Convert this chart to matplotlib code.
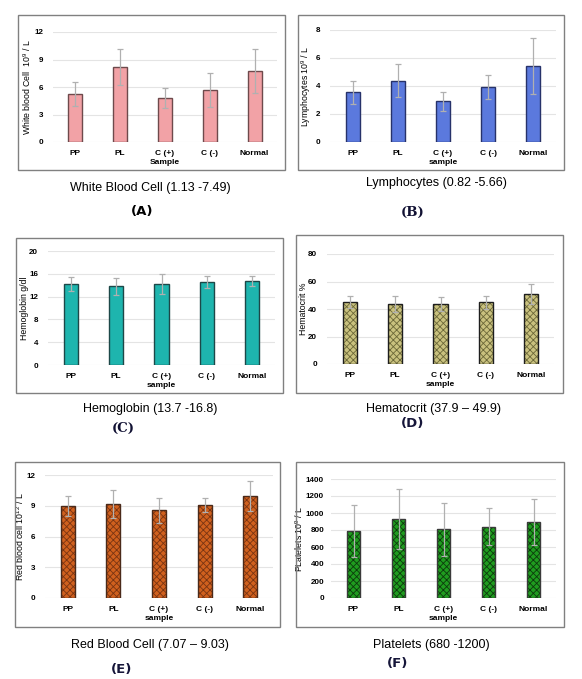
import matplotlib
matplotlib.use("Agg")
import matplotlib.pyplot as plt
from matplotlib.patches import Rectangle

samples = ["PP", "PL", "C (+)", "C (-)", "Normal"]

wbc_mean = [5.25, 8.15, 4.8, 5.7, 7.75]
wbc_err = [1.3, 1.95, 1.1, 1.85, 2.35]
lym_mean = [3.55, 4.37, 2.91, 3.9, 5.43]
lym_err = [0.8, 1.17, 0.66, 0.86, 1.98]
hgb_mean = [14.2, 13.85, 14.2, 14.55, 14.75]
hgb_err = [1.25, 1.5, 1.7, 1.0, 0.85]
hct_mean = [44.8, 43.8, 43.8, 44.9, 51.0]
hct_err = [4.3, 5.9, 5.2, 4.7, 7.2]
rbc_mean = [8.98, 9.17, 8.57, 9.1, 9.98]
rbc_err = [1.0, 1.4, 1.22, 0.7, 1.47]
plt_mean = [790, 928, 808, 840, 896]
plt_err = [302, 350, 312, 221, 268]

W, H = 582, 679
plt.rcParams["font.family"] = ["Liberation Sans", "DejaVu Sans"]
plt.rcParams["mathtext.default"] = "regular"
plt.rcParams["hatch.linewidth"] = 0.6

fig = plt.figure(figsize=(W / 100, H / 100), dpi=100)


def fbox(l, t, r, b):
    return [l / W, 1 - b / H, (r - l) / W, (b - t) / H]


# each panel: data, ylim/ticks, labels, colours, pixel boxes
panels = [
    dict(mean=wbc_mean, err=wbc_err, ymax=12, step=3, ylabel="White blood Cell  10$^9$ / L",
         xlabel="Sample", title="White Blood Cell (1.13 -7.49)", tag="(A)",
         face="#f2a2a6", edge="#6e4a4c", hatch=None, ylx=29, ypad=7,
         ax=(53, 32, 277, 142), frame=(18, 15, 285, 170), tpos=(150, 188), tagpos=(142, 212),
         tagfont="DejaVu Sans", tagcolor="black"),
    dict(mean=lym_mean, err=lym_err, ymax=8, step=2, ylabel="Lymphocytes 10$^9$ / L",
         xlabel="sample", title="Lymphocytes (0.82 -5.66)", tag="(B)",
         face="#5b79dd", edge="#27326a", hatch=None, ylx=309, ypad=7,
         ax=(330, 30, 556, 142), frame=(298, 15, 564, 170), tpos=(436, 183), tagpos=(413, 212),
         tagfont="DejaVu Serif", tagcolor="#111133"),
    dict(mean=hgb_mean, err=hgb_err, ymax=20, step=4, ylabel="Hemoglobin g/dl",
         xlabel="sample", title="Hemoglobin (13.7 -16.8)", tag="(C)",
         face="#1eb5ae", edge="#1d4848", hatch=None, ylx=25, ypad=7,
         ax=(48, 251, 275, 365), frame=(16, 238, 283, 393), tpos=(150, 409), tagpos=(123, 428),
         tagfont="DejaVu Serif", tagcolor="#111133"),
    dict(mean=hct_mean, err=hct_err, ymax=80, step=20, ylabel="Hematocrit %",
         xlabel="sample", title="Hematocrit (37.9 \u2013 49.9)", tag="(D)",
         face="#c9c17e", edge="#1e1e1e", hatch="xxxxx", hcolor="#6c6838", ylx=304, ypad=7,
         ax=(327, 254, 554, 364), frame=(296, 235, 563, 393), tpos=(433, 409), tagpos=(413, 424),
         tagfont="DejaVu Sans", tagcolor="#16163a"),
    dict(mean=rbc_mean, err=rbc_err, ymax=12, step=3, ylabel="Red blood cell 10$^{12}$ / L",
         xlabel="sample", title="Red Blood Cell (7.07 \u2013 9.03)", tag="(E)",
         face="#d0601e", edge="#4a2a1a", hatch="xxxxx", hcolor="#7a3412", ylx=22, ypad=7,
         ax=(45, 475, 273, 598), frame=(15, 462, 280, 627), tpos=(150, 645), tagpos=(122, 669),
         tagfont="DejaVu Sans", tagcolor="#16163a"),
    dict(mean=plt_mean, err=plt_err, ymax=1400, step=200, ylabel="PLatelets 10$^9$ / L",
         xlabel="sample", title="Platelets (680 -1200)", tag="(F)",
         face="#1f9c1f", edge="#3a3a3a", hatch="xxxxx", hcolor="#0c3a0c", ylx=301, ypad=5,
         ax=(331, 479, 556, 598), frame=(296, 462, 564, 627), tpos=(431, 645), tagpos=(398, 664),
         tagfont="DejaVu Sans", tagcolor="#16163a"),
]

for p in panels:
    l, t, r, b = p["frame"]
    fig.add_artist(Rectangle((l / W, 1 - b / H), (r - l) / W, (b - t) / H,
                             transform=fig.transFigure, fill=False,
                             edgecolor="#808080", linewidth=1.0))

    ax = fig.add_axes(fbox(*p["ax"]))
    x = list(range(len(samples)))
    if p["hatch"]:
        ax.bar(x, p["mean"], width=0.31, color=p["face"], hatch=p["hatch"],
               edgecolor=p["hcolor"], linewidth=0, zorder=2)
        ax.bar(x, p["mean"], width=0.31, fill=False, edgecolor=p["edge"],
               linewidth=1.0, zorder=3)
    else:
        ax.bar(x, p["mean"], width=0.31, color=p["face"], edgecolor=p["edge"],
               linewidth=1.0, zorder=2)
    ax.errorbar(x, p["mean"], yerr=p["err"], fmt="none", ecolor="#b0b0b0",
                elinewidth=0.9, capsize=2.5, capthick=0.9, zorder=4)

    ax.set_xlim(-0.5, 4.5)
    ax.set_ylim(0, p["ymax"])
    ax.set_yticks(range(0, p["ymax"] + 1, p["step"]))
    ax.set_xticks(x)
    ax.set_xticklabels(samples, fontsize=6, fontweight="bold")
    for lab in ax.get_yticklabels():
        lab.set_fontsize(5.8)
        lab.set_fontweight("bold")
    ax.tick_params(length=0)
    ax.tick_params(axis="y", pad=p["ypad"])
    ax.tick_params(axis="x", pad=6)
    for s in ax.spines.values():
        s.set_visible(False)
    ax.grid(axis="y", color="#e4e4e4", linewidth=0.8, zorder=0)
    ax.set_axisbelow(True)
    ax.set_ylabel(p["ylabel"], fontsize=6.3)
    al, _, ar, _ = p["ax"]
    ax.yaxis.set_label_coords((p["ylx"] + 4 - al) / (ar - al), 0.5)
    ax.set_xlabel(p["xlabel"], fontsize=6, fontweight="bold", labelpad=1)

    tx, ty = p["tpos"]
    fig.text(tx / W, 1 - ty / H, p["title"], fontsize=9, ha="center", va="center")
    gx, gy = p["tagpos"]
    fig.text(gx / W, 1 - gy / H, p["tag"], fontsize=9.5, fontweight="bold",
             ha="center", va="center", family=p["tagfont"], color=p["tagcolor"])

fig.savefig("out.png", dpi=100)
